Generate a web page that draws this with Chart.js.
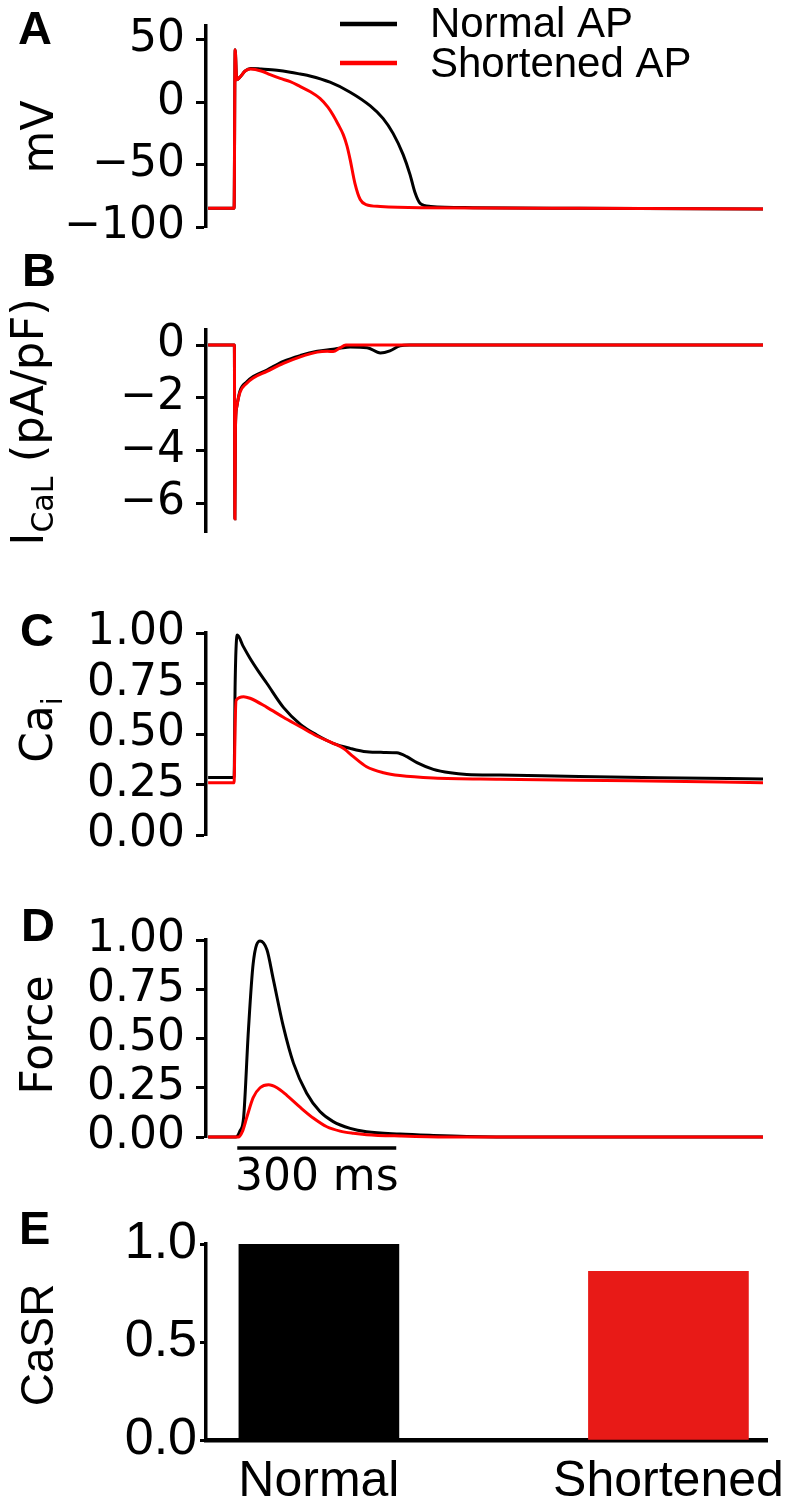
<!DOCTYPE html>
<html>
<head>
<meta charset="utf-8">
<title>AP shortening</title>
<script src="https://cdn.jsdelivr.net/npm/chart.js@4.4.1/dist/chart.umd.min.js"></script>
<style>
  body { margin: 0; background: #fff; }
  #fig { position: relative; width: 793px; height: 1502px; overflow: hidden; }
  #fig canvas { position: absolute; left: 0; }
  .panel { position: absolute; font: bold 47px "Liberation Sans", Arial, sans-serif; line-height: 1; color: #000; }
</style>
</head>
<body>
<div id="fig">
  <canvas id="chartA" width="793" height="250" style="top:0px"></canvas>
  <canvas id="chartB" width="793" height="300" style="top:250px"></canvas>
  <canvas id="chartC" width="793" height="280" style="top:600px"></canvas>
  <canvas id="chartD" width="793" height="320" style="top:880px"></canvas>
  <canvas id="chartE" width="793" height="302" style="top:1200px"></canvas>
  <div class="panel" style="left:18px;top:4px">A</div>
  <div class="panel" style="left:22px;top:246px">B</div>
  <div class="panel" style="left:20px;top:606px">C</div>
  <div class="panel" style="left:21px;top:901px">D</div>
  <div class="panel" style="left:19px;top:1204px">E</div>
</div>
<script>
// series names
var seriesNames = ['Normal AP', 'Shortened AP'];

// A - membrane potential (ms, mV)
var apNormalT = [0, 49, 51, 54, 60, 70, 80, 100, 130, 155, 174, 192, 230, 268, 306, 330, 349, 368, 381, 390, 400, 420, 500, 700, 1047];
var apNormalV = [-85, -85, 42, 18, 20, 25, 27, 26.5, 25.5, 24, 22.5, 21, 16, 8, -3, -13, -25, -42, -58, -72, -81, -83.5, -84.5, -85, -85.5];
var apShortT = [0, 49, 51, 54, 60, 70, 80, 100, 117, 136, 155, 174, 192, 211, 226, 236, 245, 255, 262, 268, 277, 287, 298, 325, 400, 700, 1047];
var apShortV = [-85, -85, 42, 18, 20, 25, 26.5, 25, 22, 19, 16.5, 12.5, 8.5, 3, -4, -10.5, -17.5, -26, -35, -46, -65, -78, -82, -83.5, -84.5, -85, -85.5];
var apTicks = [-100, -50, 0, 50];

// B - L-type Ca current (ms, pA/pF)
var icalNormalT = [0, 49.5, 50.5, 51.5, 54, 60, 73, 85, 111, 142, 174, 206, 236, 255, 268, 300, 325, 343, 362, 380, 1047];
var icalNormalI = [0, 0, -6.6, -3.2, -2.35, -1.75, -1.4, -1.2, -0.95, -0.62, -0.4, -0.24, -0.16, -0.1, -0.08, -0.1, -0.3, -0.22, -0.03, 0, 0];
var icalShortT = [0, 49.5, 50.5, 51.5, 54, 60, 73, 85, 111, 142, 174, 206, 225, 236, 248, 260, 1047];
var icalShortI = [0, 0, -6.6, -3.2, -2.35, -1.8, -1.45, -1.25, -1.0, -0.7, -0.45, -0.27, -0.24, -0.25, -0.12, 0, 0];
var icalTicks = [-6, -4, -2, 0];

// C - intracellular Ca (ms, uM)
var caNormalT = [0, 49, 51, 55, 66, 79, 95, 111, 142, 174, 205, 236, 268, 299, 331, 356, 375, 394, 425, 457, 488, 551, 700, 850, 1047];
var caNormalV = [0.285, 0.285, 0.75, 0.99, 0.935, 0.875, 0.81, 0.75, 0.632, 0.548, 0.495, 0.454, 0.429, 0.412, 0.409, 0.407, 0.388, 0.358, 0.325, 0.308, 0.3, 0.297, 0.29, 0.284, 0.277];
var caShortT = [0, 49, 51, 53, 67, 79, 111, 142, 174, 205, 236, 255, 274, 299, 331, 362, 425, 551, 800, 1047];
var caShortV = [0.259, 0.259, 0.55, 0.668, 0.685, 0.677, 0.632, 0.583, 0.536, 0.49, 0.454, 0.429, 0.388, 0.338, 0.308, 0.294, 0.282, 0.276, 0.268, 0.259];
var caTicks = [0, 0.25, 0.5, 0.75, 1.0];

// D - normalised force
var forceNormalT = [0, 52, 60, 67, 76, 85, 98, 111, 123, 142, 161, 186, 211, 236, 268, 299, 362, 425, 488, 600, 1047];
var forceNormalF = [0, 0, 0.03, 0.1, 0.54, 0.88, 0.995, 0.95, 0.8, 0.56, 0.375, 0.222, 0.129, 0.078, 0.044, 0.027, 0.015, 0.008, 0.003, 0, 0];
var forceShortT = [0, 57, 65, 73, 85, 98, 114, 130, 149, 174, 199, 224, 249, 274, 299, 362, 450, 1047];
var forceShortF = [0, 0, 0.03, 0.1, 0.2, 0.25, 0.265, 0.25, 0.21, 0.15, 0.095, 0.052, 0.03, 0.019, 0.012, 0.005, 0, 0];
var forceTicks = [0, 0.25, 0.5, 0.75, 1.0];
var scaleBarStart = 55, scaleBarMs = 300;

// E - SR Ca content
var casrLabels = ['Normal', 'Shortened'];
var casrValues = [1.0, 0.86];
var casrTicks = [0, 0.5, 1.0];

var BLACK = '#000000', RED = '#ff0000', BAR_RED = '#e81a17';
Chart.defaults.color = BLACK;
Chart.defaults.font.family = 'DejaVu Sans';

function pts(t, v) {
    return t.map(function (x, i) { return { x: x, y: v[i] }; });
}
function minusSign(v) {
    return String(v).replace('-', '\u2212');
}
// fixed axis width, no label overhang padding
function fixY(s) {
    s.width = 206;
    s.paddingTop = 0;
    s.paddingBottom = 0;
}

// rotated y title, parts can be subscripts
function yTitle(parts, x, y, family, size) {
    return {
        id: 'yTitle',
        afterDraw: function (chart) {
            var ctx = chart.ctx, total = 0;
            ctx.save();
            var items = parts.map(function (p) {
                var s = p.sub ? Math.round(size * 0.66) : size;
                ctx.font = s + 'px "' + family + '"';
                var w = ctx.measureText(p.text).width;
                total += w;
                return { text: p.text, font: ctx.font, w: w, dy: p.sub ? size * 0.22 : 0 };
            });
            ctx.translate(x, y);
            ctx.rotate(-Math.PI / 2);
            ctx.fillStyle = BLACK;
            ctx.textAlign = 'left';
            ctx.textBaseline = 'alphabetic';
            var pos = -total / 2;
            items.forEach(function (it) {
                ctx.font = it.font;
                ctx.fillText(it.text, pos, it.dy);
                pos += it.w;
            });
            ctx.restore();
        }
    };
}

var apLegend = {
    id: 'apLegend',
    afterDraw: function (chart) {
        var ctx = chart.ctx;
        ctx.save();
        ctx.font = '42px "Liberation Sans"';
        ctx.textBaseline = 'alphabetic';
        chart.data.datasets.forEach(function (ds, i) {
            var y = 24 + i * 39;
            ctx.strokeStyle = ds.borderColor;
            ctx.lineWidth = 4.5;
            ctx.beginPath();
            ctx.moveTo(340, y);
            ctx.lineTo(397, y);
            ctx.stroke();
            ctx.fillStyle = BLACK;
            ctx.fillText(ds.label, 430, 37 + i * 40);
        });
        ctx.restore();
    }
};

var scaleBar = {
    id: 'scaleBar',
    afterDraw: function (chart) {
        var xs = chart.scales.x, ctx = chart.ctx;
        var x0 = xs.getPixelForValue(scaleBarStart);
        var x1 = xs.getPixelForValue(scaleBarStart + scaleBarMs);
        var y = chart.chartArea.bottom + 11;
        ctx.save();
        ctx.strokeStyle = BLACK;
        ctx.lineWidth = 3.5;
        ctx.beginPath();
        ctx.moveTo(x0, y);
        ctx.lineTo(x1, y);
        ctx.stroke();
        ctx.fillStyle = BLACK;
        ctx.font = '44px "DejaVu Sans"';
        ctx.textAlign = 'center';
        ctx.textBaseline = 'alphabetic';
        ctx.fillText(scaleBarMs + ' ms', (x0 + x1) / 2, y + 42);
        ctx.restore();
    }
};

function traceChart(id, p) {
    return new Chart(document.getElementById(id), {
        type: 'line',
        data: {
            datasets: [
                { label: seriesNames[0], data: pts(p.nT, p.nV), borderColor: BLACK, order: 1 },
                { label: seriesNames[1], data: pts(p.sT, p.sV), borderColor: RED, order: 0 }
            ]
        },
        options: {
            responsive: false,
            animation: false,
            layout: { padding: { top: p.top, bottom: p.bottom, left: 0, right: 30 } },
            elements: {
                point: { radius: 0 },
                line: { borderWidth: 3, cubicInterpolationMode: 'monotone' }
            },
            datasets: { line: { clip: 6 } },
            plugins: { legend: { display: false }, tooltip: { enabled: false } },
            scales: {
                x: { type: 'linear', display: false, min: -4, max: 1047 },
                y: {
                    min: p.min,
                    max: p.max,
                    afterFit: fixY,
                    afterBuildTicks: function (s) {
                        s.ticks = p.ticks.map(function (v) { return { value: v }; });
                    },
                    border: { color: BLACK, width: 3.5 },
                    grid: { drawOnChartArea: false, tickLength: 10, tickWidth: 3, tickColor: BLACK },
                    ticks: {
                        autoSkip: false,
                        padding: 11,
                        color: BLACK,
                        font: { family: 'DejaVu Sans', size: 44, lineHeight: 1 },
                        callback: p.fmt
                    }
                }
            }
        },
        plugins: p.extra
    });
}

traceChart('chartA', {
    nT: apNormalT, nV: apNormalV, sT: apShortT, sV: apShortV,
    min: -100, max: 61, ticks: apTicks, top: 26, bottom: 23,
    fmt: function (v) { return minusSign(v); },
    extra: [yTitle([{ text: 'mV' }], 53, 137, 'DejaVu Sans', 44), apLegend]
});

traceChart('chartB', {
    nT: icalNormalT, nV: icalNormalI, sT: icalShortT, sV: icalShortI,
    min: -7.1, max: 0.57, ticks: icalTicks, top: 80, bottom: 18,
    fmt: function (v) { return minusSign(v); },
    extra: [yTitle([{ text: 'I' }, { text: 'CaL', sub: true }, { text: ' (pA/pF)' }], 43, 172, 'DejaVu Sans', 45)]
});

traceChart('chartC', {
    nT: caNormalT, nV: caNormalV, sT: caShortT, sV: caShortV,
    min: 0, max: 1, ticks: caTicks, top: 33, bottom: 45,
    fmt: function (v) { return v.toFixed(2); },
    extra: [yTitle([{ text: 'Ca' }, { text: 'i', sub: true }], 52, 130, 'DejaVu Sans', 44)]
});

traceChart('chartD', {
    nT: forceNormalT, nV: forceNormalF, sT: forceShortT, sV: forceShortF,
    min: 0, max: 1, ticks: forceTicks, top: 60, bottom: 63,
    fmt: function (v) { return v.toFixed(2); },
    extra: [yTitle([{ text: 'Force' }], 52, 155, 'DejaVu Sans', 44), scaleBar]
});

new Chart(document.getElementById('chartE'), {
    type: 'bar',
    data: {
        datasets: [{
            label: 'CaSR',
            data: casrValues.map(function (v, i) { return { x: i, y: v }; }),
            backgroundColor: [BLACK, BAR_RED],
            borderWidth: 0,
            barThickness: 160
        }]
    },
    options: {
        responsive: false,
        animation: false,
        layout: { padding: { top: 44, bottom: 0, left: 0, right: 26 } },
        plugins: { legend: { display: false }, tooltip: { enabled: false } },
        scales: {
            x: {
                type: 'linear',
                offset: false,
                min: -0.323,
                max: 1.282,
                afterFit: function (s) { s.height = 62; s.paddingLeft = 0; s.paddingRight = 0; },
                afterBuildTicks: function (s) {
                    s.ticks = casrLabels.map(function (l, i) { return { value: i }; });
                },
                border: { color: BLACK, width: 4.5 },
                grid: { display: false },
                ticks: {
                    autoSkip: false,
                    maxRotation: 0,
                    padding: 4,
                    color: BLACK,
                    font: { family: 'Liberation Sans', size: 50, lineHeight: 1.2 },
                    callback: function (v) { return casrLabels[v]; }
                }
            },
            y: {
                min: 0,
                max: 1,
                afterFit: fixY,
                afterBuildTicks: function (s) {
                    s.ticks = casrTicks.map(function (v) { return { value: v }; });
                },
                border: { color: BLACK, width: 3.5 },
                grid: { drawOnChartArea: false, tickLength: 6, tickWidth: 3, tickColor: BLACK },
                ticks: {
                    autoSkip: false,
                    padding: 3,
                    color: BLACK,
                    font: { family: 'Liberation Sans', size: 52, lineHeight: 1 },
                    callback: function (v) { return v.toFixed(1); }
                }
            }
        }
    },
    plugins: [yTitle([{ text: 'CaSR' }], 53, 145, 'Liberation Sans', 46)]
});
</script>
</body>
</html>
